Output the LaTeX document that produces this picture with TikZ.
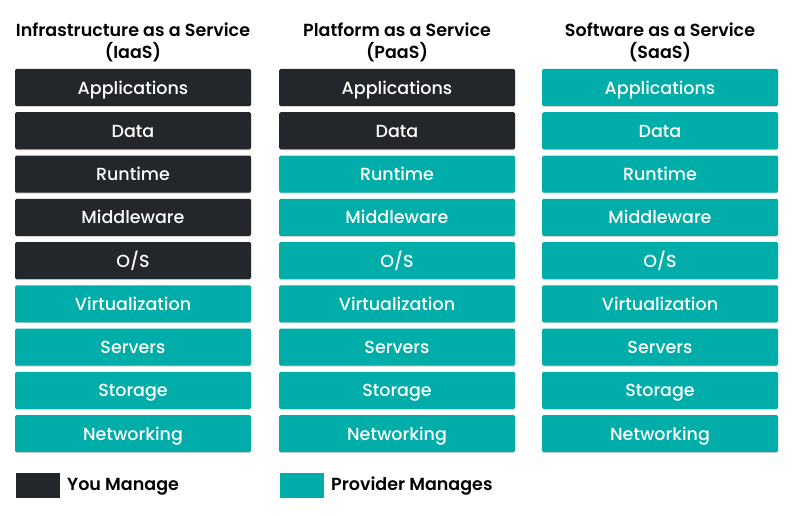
\documentclass[tikz,border=0pt]{standalone}
\usepackage{fontspec}
\setmainfont{Poppins}
\newfontfamily\medfont{Poppins Medium}
\newfontfamily\semifont{Poppins SemiBold}
\usetikzlibrary{shadows}
\definecolor{dark}{HTML}{23262B}
\definecolor{teal}{HTML}{00ADA8}
\tikzset{
  layer/.style={rounded corners=1.5pt, minimum width=236pt, minimum height=37pt, inner sep=0pt,
    text=white, font=\medfont\fontsize{17.5}{19}\selectfont, text height=13.4pt, text depth=0pt,
    drop shadow={shadow xshift=0pt, shadow yshift=-1pt, opacity=0.35, fill=gray}},
  you/.style={layer, fill=dark},
  prov/.style={layer, fill=teal},
  title/.style={font=\semifont\fontsize{17.5}{22}\selectfont, align=center, text=black},
  legbox/.style={minimum width=44pt, minimum height=25pt, inner sep=0pt},
  legtext/.style={font=\semifont\fontsize{17.5}{19}\selectfont, anchor=west, inner sep=0pt, text=black, text height=12.6pt, text depth=0pt}
}
\begin{document}
\begin{tikzpicture}[x=1pt,y=-1pt]
\useasboundingbox (0,0) rectangle (792,516);
\node[title] (t1) at (133,42) {Infrastructure as a Service\\(IaaS)};
\node[title] (t2) at (397,42) {Platform as a Service\\(PaaS)};
\node[title] (t3) at (660,42) {Software as a Service\\(SaaS)};
% IaaS
\node[you]  (a1) at (133,87.5)  {Applications};
\node[you]  (a2) at (133,130.75) {Data};
\node[you]  (a3) at (133,174)  {Runtime};
\node[you]  (a4) at (133,217.25) {Middleware};
\node[you]  (a5) at (133,260.5)  {O/S};
\node[prov] (a6) at (133,303.75) {Virtualization};
\node[prov] (a7) at (133,347)  {Servers};
\node[prov] (a8) at (133,390.25) {Storage};
\node[prov] (a9) at (133,433.5)  {Networking};
% PaaS
\node[you]  (b1) at (397,87.5)  {Applications};
\node[you]  (b2) at (397,130.75) {Data};
\node[prov] (b3) at (397,174)  {Runtime};
\node[prov] (b4) at (397,217.25) {Middleware};
\node[prov] (b5) at (397,260.5)  {O/S};
\node[prov] (b6) at (397,303.75) {Virtualization};
\node[prov] (b7) at (397,347)  {Servers};
\node[prov] (b8) at (397,390.25) {Storage};
\node[prov] (b9) at (397,433.5)  {Networking};
% SaaS
\node[prov] (c1) at (660,87.5)  {Applications};
\node[prov] (c2) at (660,130.75) {Data};
\node[prov] (c3) at (660,174)  {Runtime};
\node[prov] (c4) at (660,217.25) {Middleware};
\node[prov] (c5) at (660,260.5)  {O/S};
\node[prov] (c6) at (660,303.75) {Virtualization};
\node[prov] (c7) at (660,347)  {Servers};
\node[prov] (c8) at (660,390.25) {Storage};
\node[prov] (c9) at (660,433.5)  {Networking};
% legend
\node[legbox, fill=dark] (l1) at (38,485.5) {};
\node[legtext] (l1t) at (67,484.5) {You Manage};
\node[legbox, fill=teal] (l2) at (302,485.5) {};
\node[legtext] (l2t) at (331,484.5) {Provider Manages};
\end{tikzpicture}
\end{document}
